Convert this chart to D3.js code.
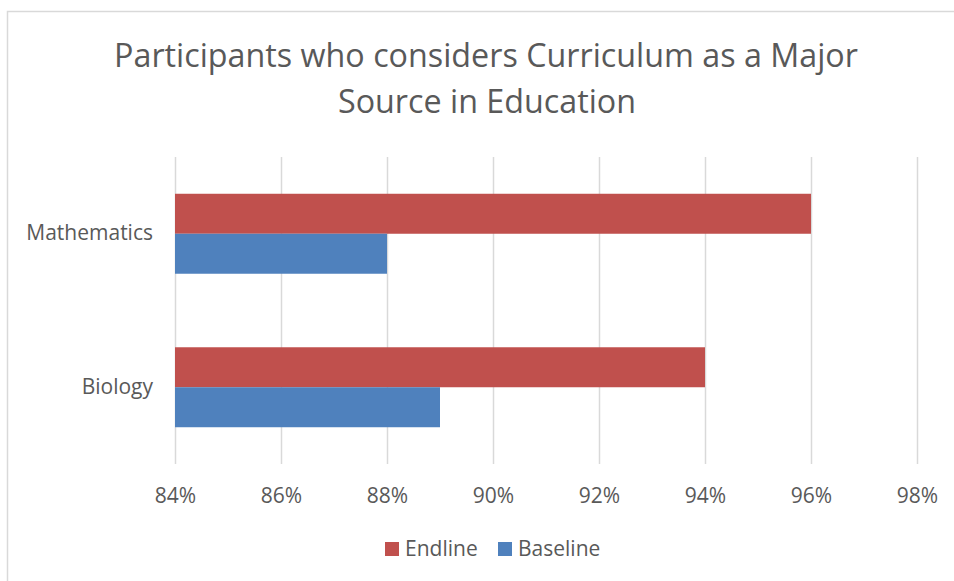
<!DOCTYPE html>
<html>
<head>
<meta charset="utf-8">
<script src="https://cdn.jsdelivr.net/npm/d3@7"></script>
<style>
  html, body { margin: 0; padding: 0; background: #fff; }
  svg { display: block; font-family: "Open Sans", "Noto Sans", sans-serif; }
</style>
</head>
<body>
<svg id="chart" width="954" height="581"></svg>
<script>
// Chart data
const categories = ["Mathematics", "Biology"];
const seriesNames = ["Endline", "Baseline"];
const endline = [96, 94];
const baseline = [88, 89];
const tickValues = [84, 86, 88, 90, 92, 94, 96, 98];
const titleLines = ["Participants who considers Curriculum as a Major", "Source in Education"];

const colors = { Endline: "#c0504d", Baseline: "#4f81bd" };
const textColor = "#595959";
const labelSize = 21;

const svg = d3.select("#chart");

// Chart area outline
svg.append("path")
  .attr("d", "M7.5,581 L7.5,11.5 L954,11.5")
  .attr("fill", "none")
  .attr("stroke", "#d9d9d9")
  .attr("stroke-width", 1.5);

// Fit text to a target width by adjusting font size
function fitText(sel, targetWidth) {
  const node = sel.node();
  const base = parseFloat(sel.attr("font-size"));
  const w = node.getComputedTextLength();
  if (w > 0) sel.attr("font-size", base * targetWidth / w);
  return sel;
}

// Title
const t1 = svg.append("text")
  .attr("x", 486).attr("y", 67)
  .attr("text-anchor", "middle")
  .attr("font-size", 32)
  .attr("fill", textColor)
  .text(titleLines[0]);
fitText(t1, 744);
svg.append("text")
  .attr("x", 487).attr("y", 113)
  .attr("text-anchor", "middle")
  .attr("font-size", t1.attr("font-size"))
  .attr("fill", textColor)
  .text(titleLines[1]);

// Scales
const x = d3.scaleLinear().domain([84, 98]).range([175, 917]);
const y = d3.scaleBand().domain(categories).range([157, 464])
  .paddingInner(0.479).paddingOuter(0.2395);
const ySub = d3.scaleBand().domain(seriesNames).range([0, y.bandwidth()]);

// Vertical gridlines
svg.append("g")
  .selectAll("line")
  .data(tickValues)
  .join("line")
  .attr("x1", d => x(d) + 0.5).attr("x2", d => x(d) + 0.5)
  .attr("y1", 157).attr("y2", 464)
  .attr("stroke", "#d9d9d9")
  .attr("stroke-width", 1.5);

// X axis tick labels
const xAxis = d3.axisBottom(x)
  .tickValues(tickValues)
  .tickFormat(d => d + "%")
  .tickSize(0)
  .tickPadding(0);
const gx = svg.append("g").attr("transform", "translate(0,488)").call(xAxis);
gx.select(".domain").remove();
gx.selectAll("text")
  .attr("fill", textColor)
  .attr("font-size", labelSize)
  .attr("font-family", "'Open Sans', 'Noto Sans', sans-serif");

// Y axis category labels
const yAxis = d3.axisLeft(y).tickSize(0).tickPadding(22);
const gy = svg.append("g").attr("transform", "translate(175,0)").call(yAxis);
gy.select(".domain").remove();
gy.selectAll("text")
  .attr("fill", textColor)
  .attr("font-size", labelSize)
  .attr("font-family", "'Open Sans', 'Noto Sans', sans-serif");

// Bars
const rows = categories.map((c, i) => ({
  category: c,
  values: [
    { series: "Endline", value: endline[i] },
    { series: "Baseline", value: baseline[i] }
  ]
}));

svg.append("g")
  .selectAll("g")
  .data(rows)
  .join("g")
  .attr("transform", d => `translate(0,${y(d.category)})`)
  .selectAll("rect")
  .data(d => d.values)
  .join("rect")
  .attr("x", x(84))
  .attr("y", d => ySub(d.series))
  .attr("width", d => x(d.value) - x(84))
  .attr("height", ySub.bandwidth())
  .attr("fill", d => colors[d.series]);

// Legend
const legendItems = [
  { name: "Endline", sx: 385, tx: 405 },
  { name: "Baseline", sx: 498, tx: 518 }
];
const lg = svg.append("g");
lg.selectAll("rect")
  .data(legendItems)
  .join("rect")
  .attr("x", d => d.sx).attr("y", 542)
  .attr("width", 14).attr("height", 14)
  .attr("fill", d => colors[d.name]);
lg.selectAll("text")
  .data(legendItems)
  .join("text")
  .attr("x", d => d.tx).attr("y", 556)
  .attr("font-size", labelSize)
  .attr("fill", textColor)
  .text(d => d.name);
</script>
</body>
</html>
